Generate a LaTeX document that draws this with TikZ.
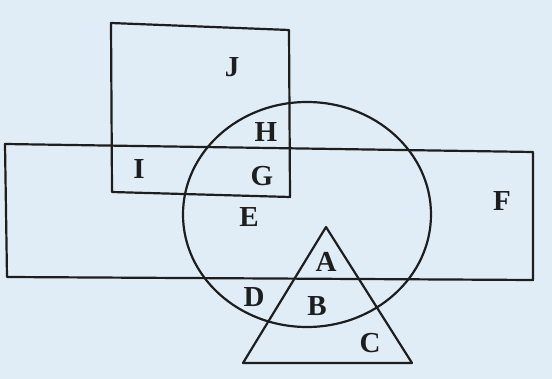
\documentclass[tikz,border=0pt]{standalone}
\usepackage{fontspec}
\setmainfont{Liberation Serif}
\definecolor{bg}{RGB}{224,237,247}
\definecolor{ink}{RGB}{30,30,30}
\tikzset{
  shape line/.style={draw=ink, line width=2.2pt, line join=round},
  lbl/.style={font=\bfseries\fontsize{29}{29}\selectfont, text=ink, inner sep=0pt}
}
\begin{document}
\begin{tikzpicture}[x=1pt,y=-1pt]
\fill[bg] (0,0) rectangle (552,379);
\useasboundingbox (0,0) rectangle (552,379);
% square J
\draw[shape line] (111,23) -- (289,30) -- (290,197) -- (112,192) -- cycle;
% rectangle F
\draw[shape line] (5,144) -- (533,152) -- (533,280) -- (7,277) -- cycle;
% circle
\draw[shape line] (307,214.5) ellipse [x radius=124, y radius=112.5];
% triangle
\draw[shape line] (326,227) -- (412,363) -- (243,363) -- cycle;
% labels
\node[lbl] (J) at (232,67) {J};
\node[lbl] (H) at (266,132) {H};
\node[lbl] (I) at (139,169) {I};
\node[lbl] (G) at (262,176) {G};
\node[lbl] (E) at (249,217) {E};
\node[lbl] (F) at (502,201) {F};
\node[lbl] (A) at (326,262) {A};
\node[lbl] (D) at (254,297) {D};
\node[lbl] (B) at (317,306) {B};
\node[lbl] (C) at (370,343) {C};
\end{tikzpicture}
\end{document}
